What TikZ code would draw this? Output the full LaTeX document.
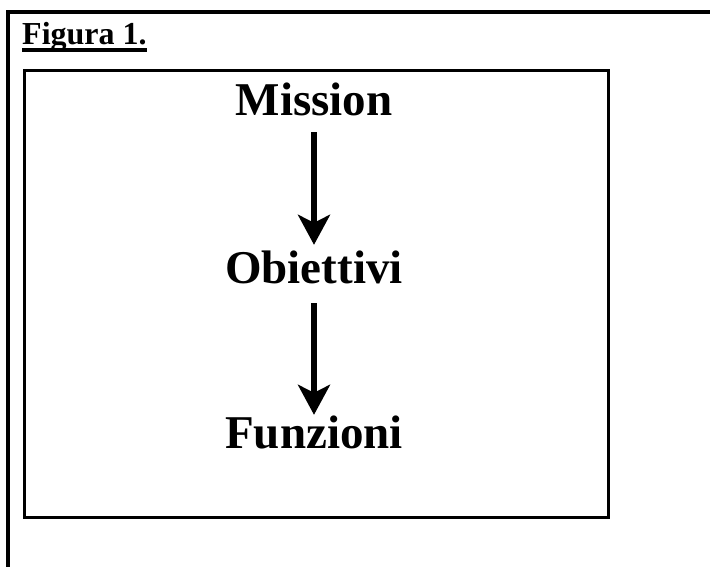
\documentclass[tikz,border=0pt]{standalone}
\usepackage{fontspec}
\setmainfont{Liberation Serif}
\usetikzlibrary{arrows.meta}
\tikzset{
  frameline/.style={line width=3.5pt, line cap=rect},
  boxline/.style={line width=3.2pt},
  bigword/.style={font=\fontsize{47}{50}\selectfont\bfseries, inner sep=0pt, anchor=base, text height=32pt, text depth=0pt},
  downarrow/.style={line width=5.5pt, -{Stealth[length=30pt, width=32pt, inset=8pt]}},
}
\begin{document}
\begin{tikzpicture}[x=1pt, y=-1pt]
\useasboundingbox (0,0) rectangle (710,566);
% outer frame (top and left only)
\coordinate (tl) at (8,12);
\coordinate (tr) at (710,12);
\coordinate (bl) at (8,566);
\draw[frameline] (tr) -- (tl) -- (bl);
% title
\node[font=\fontsize{32}{36}\selectfont\bfseries, inner sep=0pt, anchor=base west] (title) at (22,44) {Figura 1.};
\draw[line width=3.5pt] (title.base west |- 0,50) -- (title.base east |- 0,50);
% inner box
\node[draw, boxline, minimum width=584pt, minimum height=447pt, inner sep=0pt, anchor=north west] (box) at (23,69) {};
% words
\node[bigword] (m) at (314,115) {Mission};
\node[bigword] (o) at (314,283) {Obiettivi};
\node[bigword] (f) at (314,448) {Funzioni};
% arrows
\draw[downarrow, shorten <=17pt, shorten >=6pt] (m.south) -- (o.north);
\draw[downarrow, shorten <=20pt, shorten >=1pt] (o.south) -- (f.north);
\end{tikzpicture}
\end{document}
